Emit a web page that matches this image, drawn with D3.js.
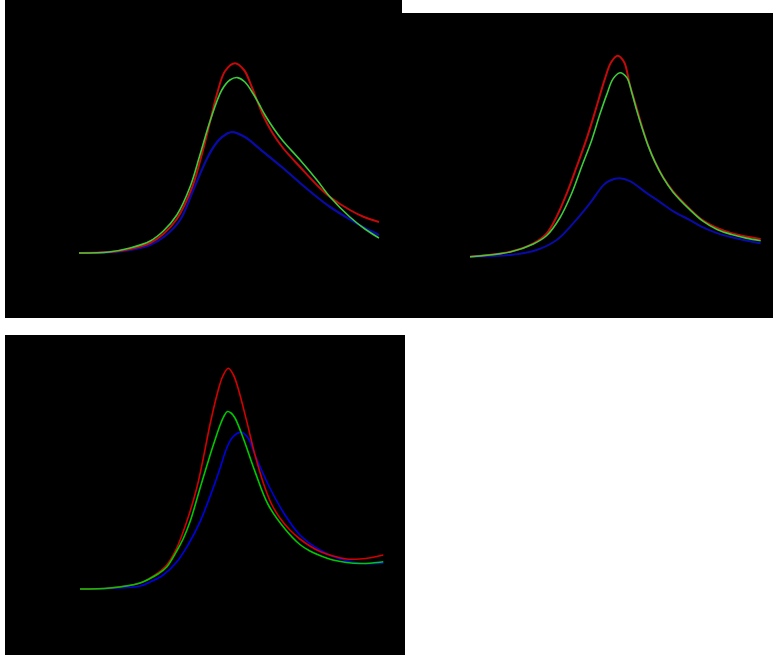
<!DOCTYPE html>
<html>
<head>
<meta charset="utf-8">
<script src="https://d3js.org/d3.v7.min.js"></script>
<style>
  body { margin: 0; background: #ffffff; }
  svg { display: block; }
</style>
</head>
<body>
<script>
var WIDTH = 773, HEIGHT = 655;

// x in relative units 0..100, y in relative response units
var X_DOMAIN = [0, 100];
var Y_DOMAIN = [0, 1];

// panel 1 (top left)
var p1Red = [[0,0],[10,0.005],[17,0.02],[23.7,0.05],[28.1,0.095],[32.6,0.17],[37.6,0.324],[40.9,0.49],[43.7,0.657],[45.9,0.79],[48.7,0.91],[52,0.949],[55,0.915],[57.6,0.83],[61.3,0.69],[64.5,0.6],[68,0.525],[73.7,0.43],[79.3,0.34],[83.7,0.28],[90.3,0.215],[95,0.18],[100,0.155]];
var p1Green = [[0,0],[10,0.005],[17,0.025],[23.7,0.06],[28.1,0.11],[32.6,0.19],[37,0.33],[40.3,0.49],[43.7,0.66],[47.6,0.815],[50.3,0.865],[52.8,0.877],[55.3,0.855],[58.1,0.795],[60,0.745],[62,0.69],[65,0.62],[68,0.56],[73.7,0.465],[79.3,0.365],[83.7,0.28],[90.3,0.18],[95.3,0.12],[100,0.075]];
var p1Blue = [[0,0],[10,0.003],[17,0.015],[23.7,0.04],[28.7,0.085],[33.7,0.165],[38.1,0.315],[42.6,0.47],[45.3,0.54],[47.7,0.58],[50.9,0.604],[55.3,0.58],[60.3,0.52],[68,0.425],[73.7,0.35],[79.3,0.28],[83.7,0.23],[90.3,0.168],[95.3,0.125],[100,0.09]];

// panel 2 (top right)
var p2Red = [[0,0],[13.8,0.025],[21.8,0.067],[26.4,0.117],[29.8,0.2],[33.3,0.317],[36.7,0.45],[40.1,0.589],[43,0.724],[46.4,0.889],[48.5,0.971],[50.8,1.005],[53,0.973],[55,0.858],[57.3,0.744],[59.2,0.649],[61.3,0.556],[63.6,0.476],[66.5,0.396],[69.8,0.328],[75.7,0.238],[80,0.183],[85,0.144],[90,0.118],[95,0.101],[100,0.089]];
var p2Green = [[0,0],[13.8,0.0235],[21.8,0.0635],[26.4,0.106],[31,0.196],[35,0.317],[38.4,0.45],[41.9,0.584],[44.7,0.713],[47,0.809],[49.2,0.889],[51.6,0.92],[54,0.894],[55.6,0.824],[57.3,0.734],[59.2,0.644],[61.3,0.554],[63.6,0.474],[66.5,0.394],[69.8,0.324],[75.7,0.234],[80,0.179],[85,0.136],[90,0.111],[95,0.093],[100,0.08]];
var p2Blue = [[0,0],[13.8,0.0085],[22.9,0.0335],[29.8,0.0835],[35.5,0.167],[41.3,0.268],[45.9,0.358],[48.2,0.381],[51.4,0.392],[55,0.378],[60.8,0.318],[65.4,0.273],[69.8,0.228],[75.7,0.183],[80,0.148],[85,0.118],[90,0.097],[95,0.081],[100,0.067]];

// panel 3 (bottom left)
var p3Red = [[0,0],[9.9,0.005],[19.8,0.03],[23.1,0.055],[25.7,0.08],[28.6,0.12],[31.9,0.205],[35.2,0.337],[38.5,0.505],[40.6,0.65],[42.9,0.825],[45.5,0.99],[47.1,1.065],[48.9,1.104],[50.6,1.07],[52.1,1.005],[55,0.837],[57.7,0.67],[61,0.505],[63.3,0.42],[65.9,0.355],[69.2,0.295],[72.5,0.25],[75.8,0.215],[79.1,0.1875],[83.4,0.165],[87.9,0.15],[92.3,0.15],[96.3,0.1575],[100,0.17]];
var p3Green = [[0,0],[9.9,0.005],[19.8,0.03],[23.1,0.0525],[25.7,0.075],[28.6,0.11],[31.9,0.19],[34,0.25],[36.3,0.337],[39.6,0.505],[42.9,0.67],[44.5,0.745],[46.2,0.82],[47.5,0.865],[48.6,0.887],[49.8,0.88],[51.1,0.855],[53.8,0.755],[57.7,0.587],[62.1,0.42],[67.6,0.3],[72.5,0.2225],[75.8,0.19],[79.1,0.1675],[83.4,0.145],[87.9,0.1325],[92.3,0.1275],[96.3,0.13],[100,0.1365]];
var p3Blue = [[0,0],[9.9,0.0025],[19.8,0.015],[23.1,0.035],[27.4,0.07],[31.9,0.135],[35.6,0.22],[39.6,0.337],[43.9,0.505],[46.2,0.605],[48.4,0.705],[50.4,0.76],[53.3,0.784],[55.4,0.755],[57.7,0.67],[62.6,0.505],[67.6,0.37],[72.5,0.27],[79.1,0.195],[85.7,0.15],[92.3,0.1285],[100,0.1285]];

var svg = d3.select("body").append("svg")
    .attr("width", WIDTH)
    .attr("height", HEIGHT);

function drawPanel(box, plot, series)
{
  svg.append("rect")
      .attr("x", box[0])
      .attr("y", box[1])
      .attr("width", box[2] - box[0])
      .attr("height", box[3] - box[1])
      .attr("fill", "#000000");

  var x = d3.scaleLinear().domain(X_DOMAIN).range([plot[0], plot[1]]);
  var y = d3.scaleLinear().domain(Y_DOMAIN).range([plot[2], plot[2] - 200]);

  var line = d3.line()
      .x(function(d) { return x(d[0]); })
      .y(function(d) { return y(d[1]); })
      .curve(d3.curveCatmullRom.alpha(0.5));

  series.forEach(function(s)
  {
    svg.append("path")
        .datum(s.data)
        .attr("fill", "none")
        .attr("stroke", s.color)
        .attr("stroke-width", s.width)
        .attr("stroke-linejoin", "round")
        .attr("d", line);
  });
}

// black backgrounds: panel 2 first so panel 1 sits over the join
drawPanel([395, 13, 773, 318], [470, 760.7, 256.7], [
  { data: p2Blue, color: "#0a0aa8", width: 2 },
  { data: p2Red, color: "#c40a0a", width: 2 },
  { data: p2Green, color: "#3ccc3c", width: 1.6 }
]);

drawPanel([5, 0, 402, 318], [79, 379, 253], [
  { data: p1Blue, color: "#0a0aa8", width: 2.2 },
  { data: p1Red, color: "#c40a0a", width: 2 },
  { data: p1Green, color: "#3ccc3c", width: 1.6 }
]);

drawPanel([5, 335, 405, 655], [80, 383.3, 589], [
  { data: p3Blue, color: "#0000e6", width: 1.6 },
  { data: p3Red, color: "#d40000", width: 1.6 },
  { data: p3Green, color: "#00c800", width: 1.6 }
]);
</script>
</body>
</html>
